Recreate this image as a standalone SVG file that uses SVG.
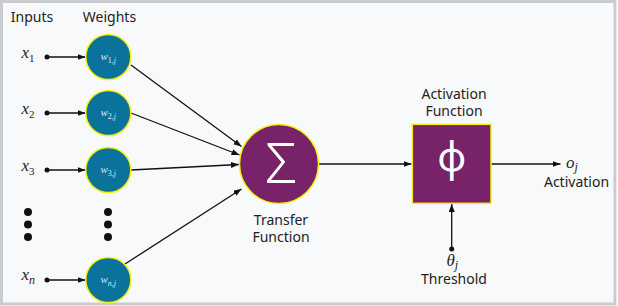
<svg xmlns="http://www.w3.org/2000/svg" width="618" height="306" viewBox="0 0 618 306">
<defs>
<style>
.lbl{font-family:"Noto Sans","Open Sans","DejaVu Sans",sans-serif;font-size:14px;fill:#222;text-anchor:middle}
.m{font-family:"Liberation Serif","DejaVu Serif",serif;font-style:italic;font-size:17px;fill:#222}
.up{font-style:normal}
.w{fill:#0b729c;stroke:#f2f20a;stroke-width:1.5}
.wl{font-family:"Liberation Serif","DejaVu Serif",serif;font-style:italic;font-size:11px;fill:#dce9f1}
.p{fill:#772269;stroke:#f2f20a;stroke-width:1.5}
.big{font-family:"Noto Sans","Open Sans","DejaVu Sans",sans-serif;fill:#fff;text-anchor:middle}
.c{stroke:#111;stroke-width:1.3;fill:none;marker-end:url(#ah)}
.dot{fill:#111}
</style>
<marker id="ah" markerUnits="userSpaceOnUse" markerWidth="9" markerHeight="7" refX="8" refY="3" orient="auto">
<path d="M0,0 L8,3 L0,6 z" fill="#111"/>
</marker>
</defs>
<rect x="1.5" y="1.5" width="613.5" height="302.5" fill="#f8f9fa" stroke="#c8ccd1" stroke-width="3"/>

<g id="headers">
<text class="lbl" x="32" y="22">Inputs</text>
<text class="lbl" x="109.5" y="22">Weights</text>
</g>

<g id="connectors">
<line class="c" x1="47" y1="57" x2="85.5" y2="57"/>
<line class="c" x1="47" y1="113" x2="85.5" y2="113"/>
<line class="c" x1="47" y1="170" x2="85.5" y2="170"/>
<line class="c" x1="47" y1="280" x2="85.5" y2="280"/>
<circle class="dot" cx="47" cy="57" r="2.5"/>
<circle class="dot" cx="47" cy="113" r="2.5"/>
<circle class="dot" cx="47" cy="170" r="2.5"/>
<circle class="dot" cx="47" cy="280" r="2.5"/>
<line class="c" x1="131" y1="65" x2="241.5" y2="146.5"/>
<line class="c" x1="131" y1="113" x2="239.5" y2="155"/>
<line class="c" x1="131" y1="170" x2="239" y2="164.5"/>
<line class="c" x1="125" y1="264" x2="241.5" y2="189"/>
<line class="c" x1="318.5" y1="164" x2="411.5" y2="164"/>
<line class="c" x1="491" y1="164" x2="560.5" y2="164"/>
<line class="c" x1="451.7" y1="249" x2="451.7" y2="204"/>
<circle class="dot" cx="451.7" cy="249" r="2.5"/>
</g>

<g id="inputs">
<text class="m" x="21.5" y="58">x<tspan class="up" font-size="11" dy="3.5">1</tspan></text>
<text class="m" x="21.5" y="114">x<tspan class="up" font-size="11" dy="3.5">2</tspan></text>
<text class="m" x="21.5" y="171">x<tspan class="up" font-size="11" dy="3.5">3</tspan></text>
<text class="m" x="21.5" y="280">x<tspan font-size="12" dy="3.5">n</tspan></text>
<circle class="dot" cx="28" cy="212" r="4"/>
<circle class="dot" cx="28" cy="224.5" r="4"/>
<circle class="dot" cx="28" cy="237" r="4"/>
</g>

<g id="w1"><circle class="w" cx="108.3" cy="57" r="22.5"/><text class="wl" x="100.5" y="60">w<tspan class="up" font-size="8" dy="2.5">1,</tspan><tspan font-size="8">j</tspan></text></g>
<g id="w2"><circle class="w" cx="108.3" cy="113" r="22.5"/><text class="wl" x="100.5" y="116">w<tspan class="up" font-size="8" dy="2.5">2,</tspan><tspan font-size="8">j</tspan></text></g>
<g id="w3"><circle class="w" cx="108.3" cy="170" r="22.5"/><text class="wl" x="100.5" y="173">w<tspan class="up" font-size="8" dy="2.5">3,</tspan><tspan font-size="8">j</tspan></text></g>
<g id="wn"><circle class="w" cx="108.3" cy="280" r="22.5"/><text class="wl" x="100.5" y="283">w<tspan font-size="8" dy="2.5">n,</tspan><tspan font-size="8">j</tspan></text></g>
<g id="wdots">
<circle class="dot" cx="108" cy="212" r="4"/>
<circle class="dot" cx="108" cy="224.5" r="4"/>
<circle class="dot" cx="108" cy="237" r="4"/>
</g>

<g id="transfer">
<circle class="p" cx="279" cy="164" r="39.5"/>
<text class="big" x="281" y="182.5" font-size="56" font-weight="300">Σ</text>
<text class="lbl" x="281" y="225">Transfer</text>
<text class="lbl" x="281" y="241.5">Function</text>
</g>

<g id="activation">
<rect class="p" x="412.3" y="124.3" width="78.7" height="79"/>
<text class="big" x="451.7" y="171" font-size="40">φ</text>
<text class="lbl" x="454" y="99">Activation</text>
<text class="lbl" x="454" y="115.5">Function</text>
</g>

<g id="output">
<text class="m" x="566" y="168">o<tspan font-size="12" dy="3">j</tspan></text>
<text class="lbl" x="576.5" y="186.5">Activation</text>
</g>

<g id="threshold">
<text class="m" x="446.5" y="265.5">θ<tspan font-size="12" dy="3">j</tspan></text>
<text class="lbl" x="454" y="284">Threshold</text>
</g>
</svg>
